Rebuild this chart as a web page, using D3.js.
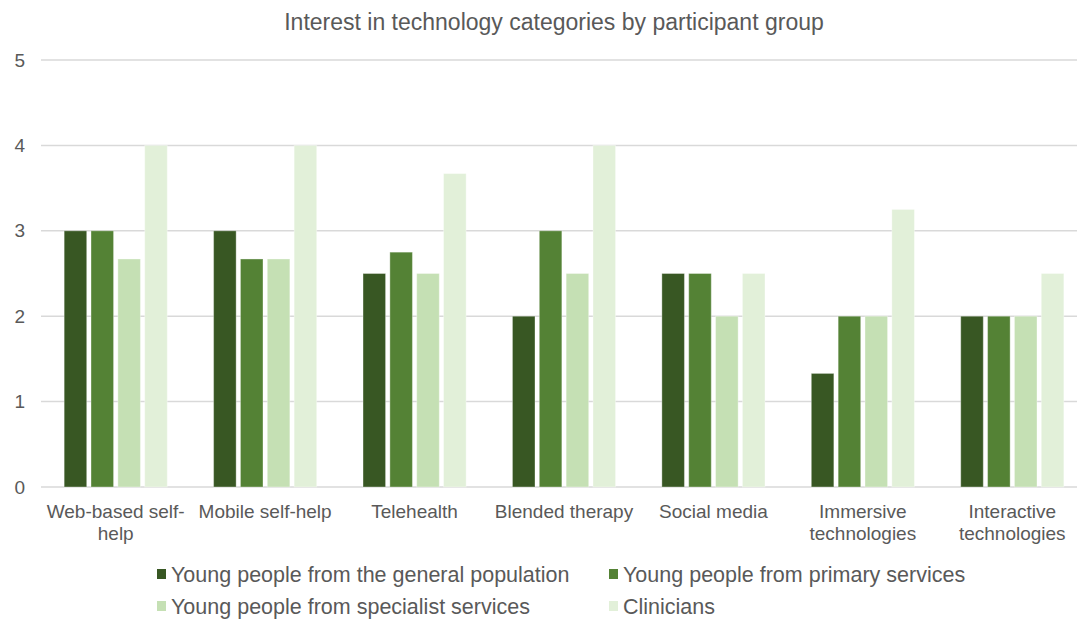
<!DOCTYPE html>
<html lang="en">
<head>
<meta charset="UTF-8">
<title>Interest in technology categories</title>
<script src="https://d3js.org/d3.v7.min.js"></script>
<style>
  body { margin: 0; background: #fff; }
  text { font-family: "Liberation Sans", Arial, sans-serif; fill: #595959; }
</style>
</head>
<body>
<div id="chart"></div>
<script>
// categories and their printed (wrapped) labels
var categories = ["Web-based self-help", "Mobile self-help", "Telehealth", "Blended therapy",
                  "Social media", "Immersive technologies", "Interactive technologies"];
var categoryLabels = [["Web-based self-", "help"], ["Mobile self-help"], ["Telehealth"], ["Blended therapy"],
                      ["Social media"], ["Immersive", "technologies"], ["Interactive", "technologies"]];

var seriesNames = ["Young people from the general population", "Young people from primary services",
                   "Young people from specialist services", "Clinicians"];

var generalPopulation = [3, 3, 2.5, 2, 2.5, 1.33, 2];
var primaryServices   = [3, 2.67, 2.75, 3, 2.5, 2, 2];
var specialistServices = [2.67, 2.67, 2.5, 2.5, 2, 2, 2];
var clinicians        = [4, 4, 3.67, 4, 2.5, 3.25, 2.5];

var yTicks = [0, 1, 2, 3, 4, 5];

var colors = ["#385723", "#548235", "#c5e0b4", "#e2f0d9"];
var seriesValues = [generalPopulation, primaryServices, specialistServices, clinicians];

var W = 1077, H = 619;
var plot = {left: 41, right: 1087, top: 60, bottom: 487};

var svg = d3.select("#chart").append("svg")
    .attr("width", W)
    .attr("height", H);

var x = d3.scaleBand()
    .domain(categories)
    .range([plot.left, plot.right])
    .paddingInner(0.31)
    .paddingOuter(0.155);

var xs = d3.scaleBand()
    .domain(seriesNames)
    .range([0, x.bandwidth()])
    .paddingInner(0.16);

var y = d3.scaleLinear()
    .domain([0, 5])
    .range([plot.bottom, plot.top]);

// gridlines
svg.append("g")
    .selectAll("line")
    .data(yTicks)
    .enter()
    .append("line")
    .attr("x1", plot.left)
    .attr("x2", W)
    .attr("y1", function(d) { return y(d); })
    .attr("y2", function(d) { return y(d); })
    .attr("stroke", "#d9d9d9")
    .attr("stroke-width", 1.5);

// y tick labels
svg.append("g")
    .selectAll("text")
    .data(yTicks)
    .enter()
    .append("text")
    .attr("x", 25)
    .attr("y", function(d) { return y(d); })
    .attr("text-anchor", "end")
    .attr("dy", "0.35em")
    .style("font-size", "19px")
    .text(function(d) { return d; });

// bars
var groups = svg.append("g")
    .selectAll("g")
    .data(categories)
    .enter()
    .append("g")
    .attr("transform", function(d) { return "translate(" + x(d) + ",0)"; });

groups.selectAll("rect")
    .data(function(d, i) {
        return seriesNames.map(function(s, j) { return {series: s, value: seriesValues[j][i], k: j}; });
    })
    .enter()
    .append("rect")
    .attr("x", function(d) { return xs(d.series); })
    .attr("width", xs.bandwidth())
    .attr("y", function(d) { return y(d.value); })
    .attr("height", function(d) { return y(0) - y(d.value); })
    .attr("fill", function(d) { return colors[d.k]; })
    .attr("stroke", "rgba(255,255,255,0.35)")
    .attr("stroke-width", 1);

// category labels
svg.append("g")
    .selectAll("text")
    .data(categories)
    .enter()
    .append("text")
    .attr("x", function(d) { return x(d) + x.bandwidth() / 2; })
    .attr("y", 518)
    .attr("text-anchor", "middle")
    .style("font-size", "19px")
    .each(function(d, i) {
        var t = d3.select(this);
        categoryLabels[i].forEach(function(line, k) {
            t.append("tspan")
                .attr("x", x(d) + x.bandwidth() / 2)
                .attr("dy", k === 0 ? 0 : 22)
                .text(line);
        });
    });

// title
svg.append("text")
    .attr("x", 554)
    .attr("y", 30)
    .attr("text-anchor", "middle")
    .style("font-size", "23px")
    .text("Interest in technology categories by participant group");

// legend
var legendPos = [[157, 574], [609, 574], [157, 606], [609, 606]];
var legend = svg.append("g")
    .selectAll("g")
    .data(seriesNames)
    .enter()
    .append("g")
    .attr("transform", function(d, i) { return "translate(" + legendPos[i][0] + "," + legendPos[i][1] + ")"; });

legend.append("rect")
    .attr("x", 0)
    .attr("y", -5)
    .attr("width", 9)
    .attr("height", 10)
    .attr("fill", function(d, i) { return colors[i]; });

legend.append("text")
    .attr("x", 14)
    .attr("y", 0)
    .attr("dy", "0.35em")
    .style("font-size", "21.5px")
    .text(function(d) { return d; });
</script>
</body>
</html>
